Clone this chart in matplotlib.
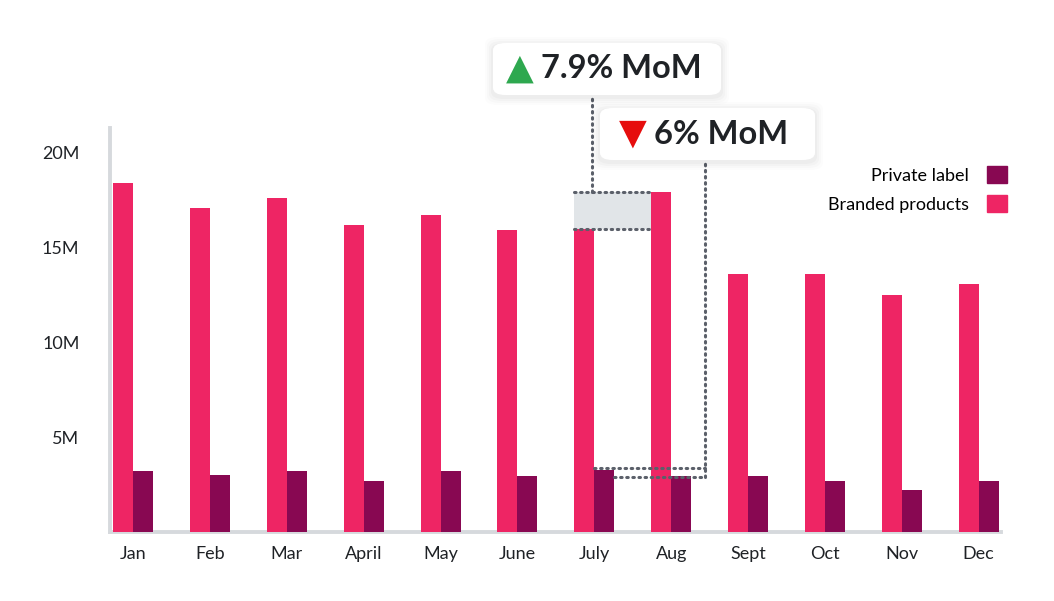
import matplotlib.pyplot as plt
import numpy as np
from matplotlib.patches import FancyBboxPatch, Patch, Rectangle

months = ['Jan', 'Feb', 'Mar', 'April', 'May', 'June', 'July', 'Aug', 'Sept', 'Oct', 'Nov', 'Dec']
branded = [18.4, 17.1, 17.6, 16.2, 16.7, 15.9, 16.0, 17.9, 13.6, 13.6, 12.5, 13.05]
private = [3.2, 3.0, 3.2, 2.7, 3.2, 2.95, 3.26, 2.95, 2.95, 2.7, 2.2, 2.7]
y_ticks = [5, 10, 15, 20]
y_labels = ['5M', '10M', '15M', '20M']

BRANDED = '#ee2564'
PRIVATE = '#880852'
SPINE = '#d6d9dd'
DOTS = '#5b606a'
TEXT = '#1f2226'

plt.rcParams['font.family'] = ['Lato', 'DejaVu Sans']

W, H = 1054, 601
fig = plt.figure(figsize=(W / 100, H / 100), dpi=100)
ax = fig.add_axes([110 / W, (H - 532) / H, 891 / W, 404 / H])

x = np.arange(len(months))
w = 0.26
ax.bar(x - w / 2, branded, w, color=BRANDED, zorder=3)
ax.bar(x + w / 2, private, w, color=PRIVATE, zorder=3)

ax.set_xlim(-0.30, 11.29)
ax.set_ylim(0, 21.3)
ax.set_xticks(x)
ax.set_xticklabels(months)
ax.set_yticks(y_ticks)
ax.set_yticklabels(y_labels)
ax.tick_params(length=0, labelsize=13, colors=TEXT)
ax.tick_params(axis='y', pad=22)
ax.tick_params(axis='x', pad=10)
for side in ['top', 'right']:
    ax.spines[side].set_visible(False)
for side in ['left', 'bottom']:
    ax.spines[side].set_color(SPINE)
    ax.spines[side].set_linewidth(2.8)

# highlight of branded change July -> Aug
jul, aug = 6, 7
dot_kw = dict(color=DOTS, lw=2.2, linestyle=(0, (0.5, 1.5)), dash_capstyle='round',
              zorder=5, clip_on=False)
x0, x1 = jul - w, aug - w
ax.add_patch(Rectangle((x0, branded[jul]), x1 - x0, branded[aug] - branded[jul],
                       facecolor='#e1e5e8', edgecolor='none', zorder=2))
ax.plot([x0, x1], [branded[aug], branded[aug]], **dot_kw)
ax.plot([x0, x1], [branded[jul], branded[jul]], **dot_kw)
ax.plot([jul - 0.03, jul - 0.03], [branded[aug], 23.0], **dot_kw)

# highlight of private label change July -> Aug
px0, px1 = jul, aug + 0.44
ax.plot([px0, px1], [private[jul] + 0.1, private[jul] + 0.1], **dot_kw)
ax.plot([jul + w, px1], [private[aug] - 0.05, private[aug] - 0.05], **dot_kw)
ax.plot([px1, px1], [private[aug] - 0.05, 19.6], **dot_kw)


def fx(px):
    return px / W


def fy(py):
    return 1 - py / H


def callout(left, top, right, bottom, marker, mcolor, label, mx, tx):
    bw, bh = fx(right) - fx(left), fy(top) - fy(bottom)
    for i, a in enumerate([0.025, 0.02, 0.015, 0.01]):
        p = 2 + 2 * i
        fig.add_artist(FancyBboxPatch((fx(left - p), fy(bottom + p) - 2 / H),
                                      fx(right + p) - fx(left - p), fy(top - p) - fy(bottom + p),
                                      boxstyle='round,pad=0,rounding_size=0.012',
                                      transform=fig.transFigure, facecolor='black',
                                      edgecolor='none', alpha=a, zorder=8))
    fig.add_artist(FancyBboxPatch((fx(left), fy(bottom)), bw, bh,
                                  boxstyle='round,pad=0,rounding_size=0.012',
                                  transform=fig.transFigure, facecolor='white',
                                  edgecolor='none', zorder=9))
    cy = fy((top + bottom) / 2)
    fig.text(fx(mx), cy, marker, color=mcolor, fontsize=26, family='DejaVu Sans',
             ha='center', va='center', zorder=10)
    fig.text(fx(tx), cy, label, color=TEXT, fontsize=23.5, fontweight='bold',
             ha='left', va='center', zorder=10)


callout(493, 43, 721, 95, '\u25b2', '#2ea84f', '7.9% MoM', 520, 541)
callout(600, 108, 815, 160, '\u25bc', '#e60d0d', '6% MoM', 633, 654)

handles = [Patch(color=PRIVATE), Patch(color=BRANDED)]
fig.legend(handles, ['Private label', 'Branded products'], loc='upper right',
           bbox_to_anchor=(fx(1007), fy(166)), frameon=False, markerfirst=False,
           fontsize=13, handlelength=1.1, handleheight=1.1, handletextpad=1.0,
           labelspacing=0.62, borderpad=0, borderaxespad=0)

fig.savefig('out.png', dpi=100)
